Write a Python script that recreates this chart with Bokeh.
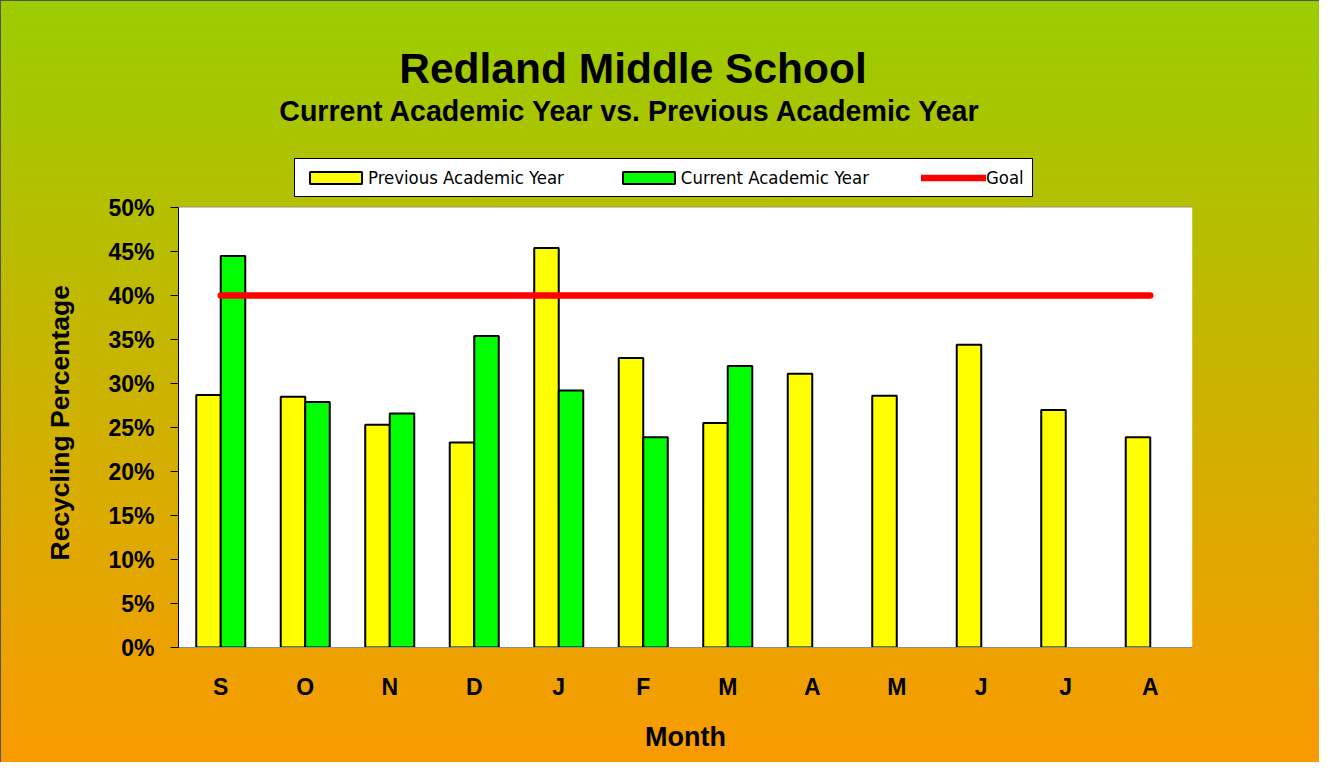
from bokeh.plotting import figure
from bokeh.models import (Range1d, FixedTicker, PrintfTickFormatter, Legend, LegendItem,
                          Label, BoxAnnotation, Title)
from bokeh.embed import file_html
from bokeh.resources import INLINE

# ---------------- data ----------------
months = ["S", "O", "N", "D", "J", "F", "M", "A", "M", "J", "J", "A"]
previous_year = [28.7, 28.5, 25.3, 23.3, 45.4, 32.9, 25.5, 31.1, 28.6, 34.4, 27.0, 23.9]
current_year = [44.5, 27.9, 26.6, 35.4, 29.2, 23.9, 32.0]
goal = [40, 40, 40, 40, 40, 40, 40, 40, 40, 40, 40, 40]
y_ticks = [0, 5, 10, 15, 20, 25, 30, 35, 40, 45, 50]

title_text = "Redland Middle School"
subtitle_text = "Current Academic Year vs. Previous Academic Year"
y_label_text = "Recycling Percentage"
x_label_text = "Month"
series_names = ["Previous Academic Year", "Current Academic Year", "Goal"]

# ---------------- layout ----------------
W, H = 1319, 762
BORDER_L, BORDER_R, BORDER_T, BORDER_B = 178, 127, 30, 115
AXIS_PX = 440            # pixel height of the 0..50 % value axis
Y_MAX = y_ticks[-1]
frame_h = H - BORDER_T - BORDER_B
y_end = Y_MAX * frame_h / AXIS_PX      # frame extends above 50 % to host title & legend
BAR_W = 0.29
FONT = "Liberation Sans"
NARROW = "'DejaVu Sans Condensed', 'Liberation Sans', sans-serif"

p = figure(width=W, height=H, output_backend="svg", toolbar_location=None,
           x_range=Range1d(-0.5, len(months) - 0.5), y_range=Range1d(0, y_end),
           min_border_left=BORDER_L, min_border_right=BORDER_R,
           min_border_top=BORDER_T, min_border_bottom=BORDER_B)

p.styles = {
    "background": "linear-gradient(to bottom, #9ACD00 0%, #FA9A00 100%)",
    "box-shadow": "inset 1px 1px 0 #555555",
}
p.border_fill_alpha = 0
p.background_fill_alpha = 0
p.outline_line_color = None

# white plot area (0 .. 50 %)
p.add_layout(BoxAnnotation(bottom=0, top=Y_MAX, fill_color="white", fill_alpha=1.0,
                           line_alpha=0, level="underlay"))

# bars
x_prev = [i - BAR_W / 2 for i in range(len(previous_year))]
x_curr = [i + BAR_W / 2 for i in range(len(current_year))]
r_prev = p.vbar(x=x_prev, top=previous_year, width=BAR_W, bottom=0,
                fill_color="#FFFF00", line_color="black", line_width=2)
r_curr = p.vbar(x=x_curr, top=current_year, width=BAR_W, bottom=0,
                fill_color="#00FF00", line_color="black", line_width=2)
r_goal = p.line(x=list(range(len(goal))), y=goal, line_color="#FF0000",
                line_width=6.5, line_cap="round")

# axes
p.xaxis.ticker = FixedTicker(ticks=list(range(len(months))))
p.xaxis.major_label_overrides = {i: m for i, m in enumerate(months)}
p.xaxis.axis_line_color = "#8C8C8C"
p.xaxis.major_tick_line_color = None
p.xaxis.minor_tick_line_color = None
p.xaxis.major_tick_out = 0
p.xaxis.major_tick_in = 0
p.xaxis.major_label_standoff = 26
p.xaxis.major_label_text_font = FONT
p.xaxis.major_label_text_font_style = "bold"
p.xaxis.major_label_text_font_size = "23px"
p.xaxis.major_label_text_color = "black"
p.xaxis.axis_label = x_label_text
p.xaxis.axis_label_text_font = FONT
p.xaxis.axis_label_text_font_style = "bold"
p.xaxis.axis_label_text_font_size = "27px"
p.xaxis.axis_label_text_color = "black"
p.xaxis.axis_label_standoff = 19

p.yaxis.ticker = FixedTicker(ticks=y_ticks)
p.yaxis.bounds = (0, Y_MAX)
p.yaxis.formatter = PrintfTickFormatter(format="%d%%")
p.yaxis.axis_line_color = "black"
p.yaxis.axis_line_width = 1
p.yaxis.major_tick_line_color = "black"
p.yaxis.major_tick_out = 8
p.yaxis.major_tick_in = 0
p.yaxis.minor_tick_line_color = None
p.yaxis.major_label_standoff = 16
p.yaxis.major_label_text_font = FONT
p.yaxis.major_label_text_font_style = "bold"
p.yaxis.major_label_text_font_size = "23px"
p.yaxis.major_label_text_color = "black"

# y-axis title as a left-panel title, placed along the 0..50 % span
p.add_layout(Title(text=y_label_text, align="left", offset=87, standoff=62,
                   text_font=FONT, text_font_style="bold", text_font_size="26.5px",
                   text_color="black"), "left")

p.xgrid.grid_line_color = None
p.ygrid.grid_line_color = "#8C8C8C"
p.ygrid.grid_line_width = 1.5

# titles (placed in the frame above the 50 % line)
p.add_layout(Label(x=4.879, y=65.75, text=title_text, text_align="center",
                   text_baseline="alphabetic", text_font=FONT, text_font_style="bold",
                   text_font_size="42.5px", text_color="black"))
p.add_layout(Label(x=4.849, y=60.91, text=subtitle_text, text_align="center",
                   text_baseline="alphabetic", text_font=FONT, text_font_style="bold",
                   text_font_size="28.6px", text_color="black"))

# legend
legend = Legend(items=[LegendItem(label=series_names[0], renderers=[r_prev]),
                       LegendItem(label=series_names[1], renderers=[r_curr]),
                       LegendItem(label=series_names[2], renderers=[r_goal])],
                orientation="horizontal", location=(116, 450),
                padding=8, spacing=52, margin=0,
                glyph_width=65, glyph_height=15, label_standoff=0,
                label_text_font=NARROW, label_text_font_size="18.4px",
                label_text_color="black",
                background_fill_color="white", background_fill_alpha=1.0,
                border_line_color="black", border_line_width=1, border_line_alpha=1.0)
p.add_layout(legend)

open("out.html", "w").write(file_html(p, INLINE))
